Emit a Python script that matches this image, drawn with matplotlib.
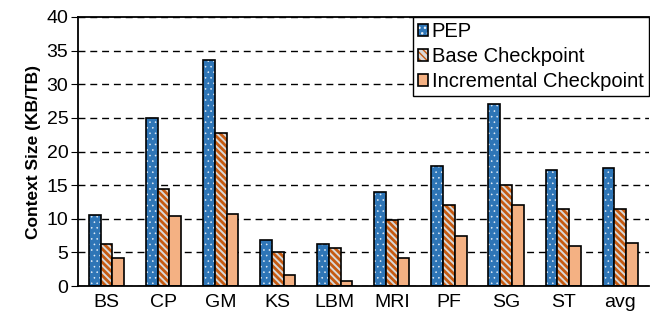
import numpy as np
import matplotlib.pyplot as plt

plt.rcParams['font.family'] = ['Liberation Sans', 'DejaVu Sans']

# data
categories = ['BS', 'CP', 'GM', 'KS', 'LBM', 'MRI', 'PF', 'SG', 'ST', 'avg']
pep = [10.5, 25.0, 33.6, 6.8, 6.2, 14.0, 17.8, 27.0, 17.3, 17.5]
base_ckpt = [6.3, 14.5, 22.8, 5.0, 5.7, 9.8, 12.0, 15.0, 11.4, 11.4]
incr_ckpt = [4.1, 10.4, 10.7, 1.7, 0.8, 4.2, 7.4, 12.0, 6.0, 6.4]
series_names = ['PEP', 'Base Checkpoint', 'Incremental Checkpoint']

x = np.arange(len(categories))
w = 0.205

fig, ax = plt.subplots(figsize=(6.5, 3.2), dpi=100)
fig.subplots_adjust(left=0.12, right=0.998, top=0.947, bottom=0.106)

ax.set_axisbelow(True)
ax.yaxis.grid(True, color='black', linestyle=(0, (5, 3.5)), linewidth=1.0)

# PEP: blue with small white dots
with plt.rc_context({'hatch.linewidth': 0.4}):
    h1a = ax.bar(x - w, pep, w, color='#2E75B6', edgecolor='#E8F0F8', hatch='...', linewidth=0)
h1b = ax.bar(x - w, pep, w, fill=False, edgecolor='black', linewidth=1.2)
# base checkpoint: grey with orange stripes
with plt.rc_context({'hatch.linewidth': 2.0}):
    h2a = ax.bar(x, base_ckpt, w, color='#D9D9D9', edgecolor='#C55A11', hatch='\\\\\\\\\\', linewidth=0)
h2b = ax.bar(x, base_ckpt, w, fill=False, edgecolor='black', linewidth=1.2)
# incremental checkpoint: light orange
h3 = ax.bar(x + w, incr_ckpt, w, color='#F4B183', edgecolor='black', linewidth=1.2)

ax.set_xlim(-0.5, len(categories) - 0.5)
ax.set_ylim(0, 40)
ax.set_yticks(range(0, 41, 5))
ax.set_xticks(x)
ax.set_xticklabels(categories, fontsize=14)
ax.tick_params(axis='y', labelsize=14, length=5, pad=2)
ax.tick_params(axis='x', length=0, pad=6)
ax.set_ylabel('Context Size (KB/TB)', fontsize=12.5, fontweight='bold', labelpad=4)

ax.spines['right'].set_visible(False)
for s in ['left', 'bottom', 'top']:
    ax.spines[s].set_linewidth(1.3)

leg = ax.legend([(h1a[0], h1b[0]), (h2a[0], h2b[0]), h3[0]], series_names,
                loc='upper right', fontsize=14.5, frameon=True, fancybox=False,
                edgecolor='black', handlelength=0.5, handleheight=0.5,
                handletextpad=0.2, borderpad=0.25, labelspacing=0.3,
                borderaxespad=0.0, framealpha=1)
leg.get_frame().set_linewidth(1.0)

fig.savefig('out.png')
